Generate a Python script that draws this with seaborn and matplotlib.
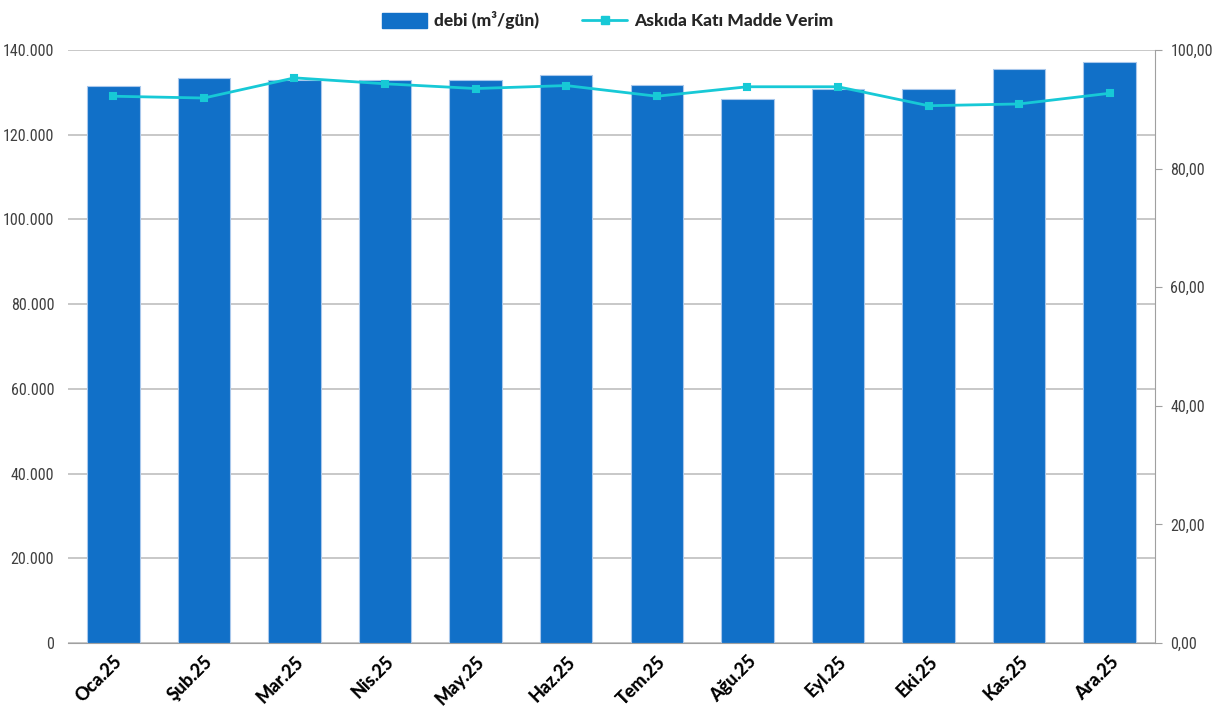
import matplotlib
matplotlib.use("Agg")
import matplotlib.pyplot as plt
from matplotlib import font_manager
from matplotlib.lines import Line2D
from matplotlib.patches import Patch
import matplotlib.ticker as mticker
import seaborn as sns
import pandas as pd

months = ["Oca.25", "Şub.25", "Mar.25", "Nis.25", "May.25", "Haz.25",
          "Tem.25", "Ağu.25", "Eyl.25", "Eki.25", "Kas.25", "Ara.25"]
debi = [131500, 133400, 132900, 132900, 132900, 134000,
        131700, 128400, 130800, 130700, 135400, 137200]
akm_verim = [92.2, 91.9, 95.3, 94.3, 93.5, 94.0,
             92.2, 93.8, 93.8, 90.6, 90.9, 92.7]

df = pd.DataFrame({"ay": months, "debi": debi, "verim": akm_verim})

bar_color = "#1170C8"
line_color = "#17C9D6"
tick_color = "#404040"

# dar bir yazı tipi varsa onu kullan
installed = {f.name for f in font_manager.fontManager.ttflist}
narrow_name = next((n for n in ["Roboto Condensed", "Liberation Sans Narrow",
                                "Open Sans Condensed", "Roboto"] if n in installed), "DejaVu Sans")
is_condensed = narrow_name != "Roboto"
narrow = [narrow_name, "DejaVu Sans"]
tick_size = 11.5 if is_condensed else 10
bold_font = ["Lato", "DejaVu Sans"]

sns.set_style("white")
plt.rcParams["font.family"] = ["Lato", "DejaVu Sans"]

fig = plt.figure(figsize=(12.15, 7.08), dpi=100)
ax = fig.add_axes([0.056, 0.0918, 0.8946, 0.8376])

sns.barplot(data=df, x="ay", y="debi", color=bar_color, width=0.58,
            edgecolor="#A9C8EC", linewidth=0.8, saturation=1, ax=ax, zorder=2)
ax.set_ylim(0, 140000)
ax.yaxis.set_major_locator(mticker.MultipleLocator(20000))
ax.yaxis.set_major_formatter(mticker.FuncFormatter(
    lambda v, p: f"{int(v):,}".replace(",", ".")))
ax.grid(axis="y", color="#BFBFBF", linewidth=1.2, zorder=0)
ax.set_axisbelow(True)
ax.set_xlabel("")
ax.set_ylabel("")
for s in ["top", "left", "right"]:
    ax.spines[s].set_visible(False)
ax.spines["bottom"].set_color("#A0A0A0")
ax.tick_params(axis="y", length=0, pad=10, labelsize=tick_size, labelcolor=tick_color)
ax.tick_params(axis="x", length=0, pad=7)
for lab in ax.get_yticklabels():
    lab.set_family(narrow)
ax.set_xticks(range(len(months)))
ax.set_xticklabels(months, rotation=45, ha="right", rotation_mode="anchor",
                   fontsize=13, fontweight="black", family=bold_font, color="black")

ax2 = ax.twinx()
sns.pointplot(data=df, x="ay", y="verim", color=line_color, markers="s",
              markersize=5, linewidth=2, ax=ax2, zorder=3)
ax2.set_ylim(0, 100)
ax2.set_xlim(ax.get_xlim())
ax2.yaxis.set_major_locator(mticker.MultipleLocator(20))
ax2.yaxis.set_major_formatter(mticker.FuncFormatter(
    lambda v, p: f"{v:.2f}".replace(".", ",")))
ax2.set_ylabel("")
ax2.set_xlabel("")
for s in ["top", "left", "bottom"]:
    ax2.spines[s].set_visible(False)
ax2.spines["right"].set_color("#A0A0A0")
ax2.tick_params(axis="y", length=5, color="#A0A0A0", pad=6,
                labelsize=tick_size, labelcolor=tick_color)
for lab in ax2.get_yticklabels():
    lab.set_family(narrow)

handles = [Patch(facecolor=bar_color, edgecolor=bar_color),
           Line2D([0], [0], color=line_color, lw=2, marker="s", markersize=6)]
fig.legend(handles, ["debi (m³/gün)", "Askıda Katı Madde Verim"],
           loc="upper center", bbox_to_anchor=(0.5, 1.006), ncol=2, frameon=False,
           prop={"weight": "black", "size": 12.5, "family": bold_font},
           handlelength=2.6, handleheight=0.9, columnspacing=2.5, handletextpad=0.4)

fig.savefig("out.png", dpi=100)
